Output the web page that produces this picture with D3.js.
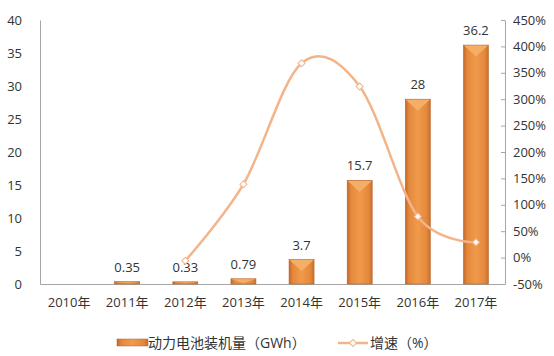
<!DOCTYPE html>
<html><head><meta charset="utf-8">
<script src="https://cdn.jsdelivr.net/npm/d3@7"></script>
<style>body{margin:0;background:#fff}svg{display:block}</style>
</head><body>
<svg id="c" width="554" height="356"></svg>
<script>
const years = ["2010年","2011年","2012年","2013年","2014年","2015年","2016年","2017年"];
const capacity = [0, 0.35, 0.33, 0.79, 3.7, 15.7, 28, 36.2];
const capacityLabels = ["", "0.35", "0.33", "0.79", "3.7", "15.7", "28", "36.2"];
const growthYears = ["2012年","2013年","2014年","2015年","2016年","2017年"];
const growth = [-6, 139, 368, 324, 78, 29];
const leftTicks = [0,5,10,15,20,25,30,35,40];
const rightTicks = [-50,0,50,100,150,200,250,300,350,400,450];
const seriesNames = ["动力电池装机量（GWh）", "增速（%）"];

const svg = d3.select("#c");
const font = "'Open Sans','Noto Sans CJK SC',sans-serif";
const L = 40, R = 505, T = 20, B = 284;

const x = d3.scaleBand().domain(years).range([L, R]).paddingInner(0.57).paddingOuter(0.285);
const y = d3.scaleLinear().domain([0, 40]).range([B, T]);
const y2 = d3.scaleLinear().domain([-50, 450]).range([B, T]);

const defs = svg.append("defs");
const g = defs.append("linearGradient").attr("id","barg").attr("x1","0").attr("x2","1").attr("y1","0").attr("y2","0");
g.append("stop").attr("offset","0").attr("stop-color","#c2692a");
g.append("stop").attr("offset","0.15").attr("stop-color","#e5883c");
g.append("stop").attr("offset","0.5").attr("stop-color","#f09a4c");
g.append("stop").attr("offset","0.85").attr("stop-color","#e5883c");
g.append("stop").attr("offset","1").attr("stop-color","#c96f2c");

// axes lines
const axL = svg.append("g").attr("transform", `translate(${L},0)`)
  .call(d3.axisLeft(y).tickValues(leftTicks).tickSize(0).tickPadding(18));
axL.select(".domain").attr("stroke","#a6a6a6");
axL.selectAll("text").attr("font-family", font).attr("font-size", 13).attr("fill","#333");

const axR = svg.append("g").attr("transform", `translate(${R},0)`)
  .call(d3.axisRight(y2).tickValues(rightTicks).tickSize(0).tickPadding(8).tickFormat(d => d + "%"));
axR.select(".domain").attr("stroke","#a6a6a6");
axR.selectAll("text").attr("font-family", font).attr("font-size", 13).attr("fill","#333");
axR.selectAll(".tick").append("line").attr("x1",-4).attr("x2",0).attr("stroke","#a6a6a6");

const axB = svg.append("g").attr("transform", `translate(0,${B})`)
  .call(d3.axisBottom(x).tickSize(0).tickPadding(14));
axB.select(".domain").attr("stroke","#a6a6a6");
axB.selectAll("text").attr("font-family", font).attr("font-size", 13).attr("fill","#333");

// bars
const bars = svg.append("g");
years.forEach((yr, i) => {
  const v = capacity[i];
  if (!v) return;
  const x0 = x(yr), w = x.bandwidth(), top = y(v), h = B - top;
  bars.append("rect").attr("x", x0).attr("y", top).attr("width", w).attr("height", h)
    .attr("fill","url(#barg)").attr("stroke","#b5642a").attr("stroke-width",0.6);
  const bh = Math.min(w/2 - 1, h - 1);
  if (bh > 1) {
    bars.append("path")
      .attr("d", `M${x0+0.5},${top+0.5}L${x0+w-0.5},${top+0.5}L${x0+w/2},${top+bh}Z`)
      .attr("fill","#f5ae66");
  }
  bars.append("text").attr("x", x0 + w/2).attr("y", top - 10)
    .attr("text-anchor","middle").attr("font-family", font).attr("font-size", 13)
    .attr("fill","#333").text(capacityLabels[i]);
});

// growth line
const pts = growthYears.map((yr, i) => [x(yr) + x.bandwidth()/2, y2(growth[i])]);
svg.append("path").attr("d", d3.line().curve(d3.curveCardinal.tension(0))(pts))
  .attr("fill","none").attr("stroke","#f4b48a").attr("stroke-width",2.5);
svg.append("g").selectAll("rect").data(pts).join("rect")
  .attr("x", d => d[0]-2.5).attr("y", d => d[1]-2.5).attr("width",5).attr("height",5)
  .attr("transform", d => `rotate(45,${d[0]},${d[1]})`)
  .attr("fill","#fff").attr("stroke","#f4b48a").attr("stroke-width",1);

// legend
const ly = 343;
const leg = svg.append("g");
leg.append("rect").attr("x",117).attr("y",ly-4).attr("width",31).attr("height",7)
  .attr("fill","url(#barg)").attr("stroke","#b5642a").attr("stroke-width",0.5);
leg.append("text").attr("x",148).attr("y",ly).attr("dy","0.35em")
  .attr("font-family", font).attr("font-size",14).attr("fill","#333").text(seriesNames[0]);
leg.append("line").attr("x1",338).attr("x2",368).attr("y1",ly).attr("y2",ly)
  .attr("stroke","#f4b48a").attr("stroke-width",2.5);
leg.append("rect").attr("x",350.5).attr("y",ly-2.5).attr("width",5).attr("height",5)
  .attr("transform",`rotate(45,353,${ly})`).attr("fill","#fff").attr("stroke","#f4b48a");
leg.append("text").attr("x",370).attr("y",ly).attr("dy","0.35em")
  .attr("font-family", font).attr("font-size",14).attr("fill","#333").text(seriesNames[1]);
</script>
</body></html>
